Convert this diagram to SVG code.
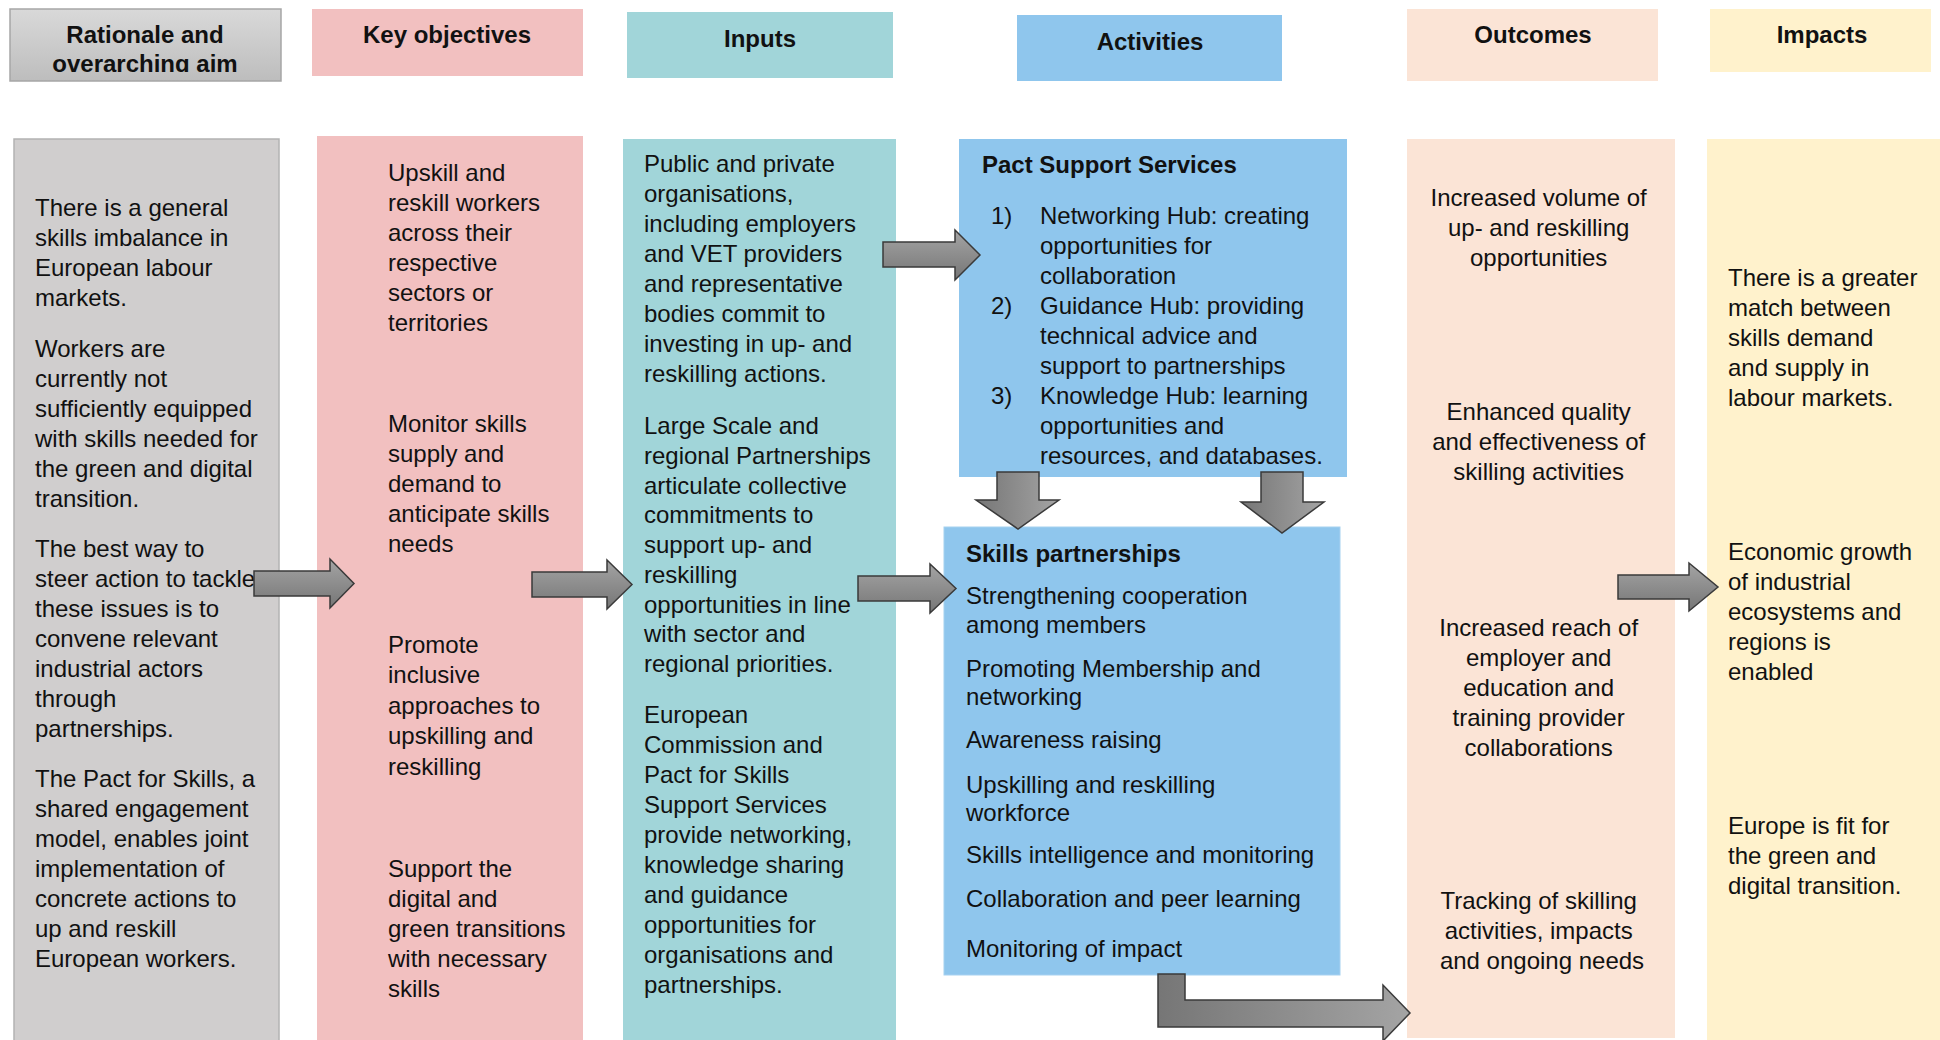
<svg xmlns="http://www.w3.org/2000/svg" width="1940" height="1040" viewBox="0 0 1940 1040">
<style>
  text { font-family: "Liberation Sans", Arial, sans-serif; font-size: 24px; fill: #111111; }
  .hdr { font-weight: bold; text-anchor: middle; }
  .ttl { font-weight: bold; }
  .mid { text-anchor: middle; }
  .arrow { stroke: #3a3a3a; stroke-width: 1.5; stroke-linejoin: miter; }
  .h { fill: url(#gH); }
  .v { fill: url(#gV); }
</style>
<defs>
  <linearGradient id="gHdr" x1="0" y1="0" x2="0" y2="1">
    <stop offset="0" stop-color="#d9d9d9"/>
    <stop offset="1" stop-color="#bdbdbd"/>
  </linearGradient>
  <linearGradient id="gH" x1="0" y1="0" x2="0" y2="1">
    <stop offset="0" stop-color="#a4a4a4"/>
    <stop offset="1" stop-color="#767676"/>
  </linearGradient>
  <linearGradient id="gV" x1="0" y1="0" x2="1" y2="0">
    <stop offset="0" stop-color="#767676"/>
    <stop offset="1" stop-color="#a4a4a4"/>
  </linearGradient>
  <clipPath id="clipHdr">
    <rect x="10" y="9" width="271" height="63"/>
  </clipPath>
</defs>
<rect x="0" y="0" width="1940" height="1040" fill="#ffffff"/>

<!-- Headers -->
<g id="header-rationale">
  <rect x="10" y="9" width="271" height="72" fill="url(#gHdr)" stroke="#a6a6a6" stroke-width="1.5"/>
  <text class="hdr" clip-path="url(#clipHdr)"><tspan x="145" y="43">Rationale and</tspan><tspan x="145" y="72">overarching  aim</tspan></text>
</g>
<g id="header-objectives">
  <rect x="312" y="9" width="271" height="67" fill="#f2c0c0"/>
  <text class="hdr" x="447" y="43">Key objectives</text>
</g>
<g id="header-inputs">
  <rect x="627" y="12" width="266" height="66" fill="#a1d5d9"/>
  <text class="hdr" x="760" y="47">Inputs</text>
</g>
<g id="header-activities">
  <rect x="1017" y="15" width="265" height="66" fill="#8fc6ed"/>
  <text class="hdr" x="1150" y="50">Activities</text>
</g>
<g id="header-outcomes">
  <rect x="1407" y="9" width="251" height="72" fill="#fbe4d6"/>
  <text class="hdr" x="1533" y="43">Outcomes</text>
</g>
<g id="header-impacts">
  <rect x="1710" y="9" width="221" height="63" fill="#fff2cc"/>
  <text class="hdr" x="1822" y="43">Impacts</text>
</g>

<!-- Columns -->
<g id="col-rationale">
  <rect x="14" y="139" width="265" height="905" fill="#d0cece" stroke="#b3b3b3" stroke-width="1.5"/>
  <text>
    <tspan x="35" y="216">There is a general</tspan>
    <tspan x="35" y="246">skills imbalance in</tspan>
    <tspan x="35" y="276">European labour</tspan>
    <tspan x="35" y="306">markets.</tspan>
    <tspan x="35" y="357">Workers are</tspan>
    <tspan x="35" y="387">currently not</tspan>
    <tspan x="35" y="417">sufficiently equipped</tspan>
    <tspan x="35" y="447">with skills needed for</tspan>
    <tspan x="35" y="477">the green and digital</tspan>
    <tspan x="35" y="507">transition.</tspan>
    <tspan x="35" y="557">The best way to</tspan>
    <tspan x="35" y="587">steer action to tackle</tspan>
    <tspan x="35" y="617">these issues is to</tspan>
    <tspan x="35" y="647">convene relevant</tspan>
    <tspan x="35" y="677">industrial actors</tspan>
    <tspan x="35" y="707">through</tspan>
    <tspan x="35" y="737">partnerships.</tspan>
    <tspan x="35" y="787">The Pact for Skills, a</tspan>
    <tspan x="35" y="817">shared engagement</tspan>
    <tspan x="35" y="847">model, enables joint</tspan>
    <tspan x="35" y="877">implementation of</tspan>
    <tspan x="35" y="907">concrete actions to</tspan>
    <tspan x="35" y="937">up and reskill</tspan>
    <tspan x="35" y="967">European workers.</tspan>
  </text>
</g>
<g id="col-objectives">
  <rect x="317" y="136" width="266" height="904" fill="#f2c0c0"/>
  <text>
    <tspan x="388" y="181">Upskill and</tspan>
    <tspan x="388" y="211">reskill workers</tspan>
    <tspan x="388" y="241">across their</tspan>
    <tspan x="388" y="271">respective</tspan>
    <tspan x="388" y="301">sectors or</tspan>
    <tspan x="388" y="331">territories</tspan>
    <tspan x="388" y="432">Monitor skills</tspan>
    <tspan x="388" y="462">supply and</tspan>
    <tspan x="388" y="492">demand to</tspan>
    <tspan x="388" y="522">anticipate skills</tspan>
    <tspan x="388" y="552">needs</tspan>
    <tspan x="388" y="653">Promote</tspan>
    <tspan x="388" y="683">inclusive</tspan>
    <tspan x="388" y="714">approaches to</tspan>
    <tspan x="388" y="744">upskilling and</tspan>
    <tspan x="388" y="775">reskilling</tspan>
    <tspan x="388" y="877">Support the</tspan>
    <tspan x="388" y="907">digital and</tspan>
    <tspan x="388" y="937">green transitions</tspan>
    <tspan x="388" y="967">with necessary</tspan>
    <tspan x="388" y="997">skills</tspan>
  </text>
</g>
<g id="col-inputs">
  <rect x="623" y="139" width="273" height="901" fill="#a1d5d9"/>
  <text>
    <tspan x="644" y="172">Public and private</tspan>
    <tspan x="644" y="202">organisations,</tspan>
    <tspan x="644" y="232">including employers</tspan>
    <tspan x="644" y="262">and VET providers</tspan>
    <tspan x="644" y="292">and representative</tspan>
    <tspan x="644" y="322">bodies commit to</tspan>
    <tspan x="644" y="352">investing in up- and</tspan>
    <tspan x="644" y="382">reskilling actions.</tspan>
    <tspan x="644" y="434">Large Scale and</tspan>
    <tspan x="644" y="464">regional Partnerships</tspan>
    <tspan x="644" y="494">articulate collective</tspan>
    <tspan x="644" y="523">commitments to</tspan>
    <tspan x="644" y="553">support up- and</tspan>
    <tspan x="644" y="583">reskilling</tspan>
    <tspan x="644" y="613">opportunities in line</tspan>
    <tspan x="644" y="642">with sector and</tspan>
    <tspan x="644" y="672">regional priorities.</tspan>
    <tspan x="644" y="723">European</tspan>
    <tspan x="644" y="753">Commission and</tspan>
    <tspan x="644" y="783">Pact for Skills</tspan>
    <tspan x="644" y="813">Support Services</tspan>
    <tspan x="644" y="843">provide networking,</tspan>
    <tspan x="644" y="873">knowledge sharing</tspan>
    <tspan x="644" y="903">and guidance</tspan>
    <tspan x="644" y="933">opportunities for</tspan>
    <tspan x="644" y="963">organisations and</tspan>
    <tspan x="644" y="993">partnerships.</tspan>
  </text>
</g>
<g id="pact-support-services">
  <rect x="959" y="139" width="388" height="338" fill="#8fc6ed"/>
  <text class="ttl" x="982" y="173">Pact Support Services</text>
  <text>
    <tspan x="991" y="224">1)</tspan>
    <tspan x="1040" y="224">Networking Hub: creating</tspan>
    <tspan x="1040" y="254">opportunities for</tspan>
    <tspan x="1040" y="284">collaboration</tspan>
    <tspan x="991" y="314">2)</tspan>
    <tspan x="1040" y="314">Guidance Hub: providing</tspan>
    <tspan x="1040" y="344">technical advice and</tspan>
    <tspan x="1040" y="374">support to partnerships</tspan>
    <tspan x="991" y="404">3)</tspan>
    <tspan x="1040" y="404">Knowledge Hub: learning</tspan>
    <tspan x="1040" y="434">opportunities and</tspan>
    <tspan x="1040" y="464">resources, and databases.</tspan>
  </text>
</g>
<g id="skills-partnerships">
  <rect x="944" y="527" width="396" height="448" fill="#8fc6ed" stroke="#a6d1f0" stroke-width="1"/>
  <text class="ttl" x="966" y="562">Skills  partnerships</text>
  <text>
    <tspan x="966" y="604">Strengthening cooperation</tspan>
    <tspan x="966" y="633">among members</tspan>
    <tspan x="966" y="677">Promoting Membership and</tspan>
    <tspan x="966" y="705">networking</tspan>
    <tspan x="966" y="748">Awareness raising</tspan>
    <tspan x="966" y="793">Upskilling and reskilling</tspan>
    <tspan x="966" y="821">workforce</tspan>
    <tspan x="966" y="863">Skills intelligence and monitoring</tspan>
    <tspan x="966" y="907">Collaboration and peer learning</tspan>
    <tspan x="966" y="957">Monitoring of impact</tspan>
  </text>
</g>
<g id="col-outcomes">
  <rect x="1407" y="139" width="268" height="899" fill="#fbe4d6"/>
  <text class="mid">
    <tspan x="1542" y="206">Increased volume of</tspan>
    <tspan x="1542" y="236">up- and reskilling</tspan>
    <tspan x="1542" y="266">opportunities</tspan>
    <tspan x="1542" y="420">Enhanced quality</tspan>
    <tspan x="1542" y="450">and effectiveness of</tspan>
    <tspan x="1542" y="480">skilling activities</tspan>
    <tspan x="1542" y="636">Increased reach of</tspan>
    <tspan x="1542" y="666">employer and</tspan>
    <tspan x="1542" y="696">education and</tspan>
    <tspan x="1542" y="726">training provider</tspan>
    <tspan x="1542" y="756">collaborations</tspan>
    <tspan x="1542" y="909">Tracking of skilling</tspan>
    <tspan x="1542" y="939">activities, impacts</tspan>
    <tspan x="1542" y="969">and ongoing needs</tspan>
  </text>
</g>
<g id="col-impacts">
  <rect x="1707" y="139" width="233" height="901" fill="#fff2cc"/>
  <text>
    <tspan x="1728" y="286">There is a greater</tspan>
    <tspan x="1728" y="316">match between</tspan>
    <tspan x="1728" y="346">skills demand</tspan>
    <tspan x="1728" y="376">and supply in</tspan>
    <tspan x="1728" y="406">labour markets.</tspan>
    <tspan x="1728" y="560">Economic growth</tspan>
    <tspan x="1728" y="590">of industrial</tspan>
    <tspan x="1728" y="620">ecosystems and</tspan>
    <tspan x="1728" y="650">regions is</tspan>
    <tspan x="1728" y="680">enabled</tspan>
    <tspan x="1728" y="834">Europe is fit for</tspan>
    <tspan x="1728" y="864">the green and</tspan>
    <tspan x="1728" y="894">digital transition.</tspan>
  </text>
</g>

<!-- Connectors -->
<g id="connectors">
  <path id="arrow-rationale-objectives" class="arrow h" d="M254,571 H330 V559 L354,583.5 L330,608 V596 H254 Z"/>
  <path id="arrow-objectives-inputs" class="arrow h" d="M532,572 H607 V560 L632,584.5 L607,609 V597 H532 Z"/>
  <path id="arrow-inputs-pact" class="arrow h" d="M883,242 H955 V230 L980,255 L955,280 V267 H883 Z"/>
  <path id="arrow-inputs-partnerships" class="arrow h" d="M858,576 H930 V564 L956,588.5 L930,613 V601 H858 Z"/>
  <path id="arrow-pact-partnerships-left" class="arrow v" d="M997,472 H1039 V500 H1059 L1018,529 L976,500 H997 Z"/>
  <path id="arrow-pact-partnerships-right" class="arrow v" d="M1261,472 H1303 V502 H1324 L1282,533 L1241,502 H1261 Z"/>
  <path id="arrow-partnerships-outcomes" class="arrow v" d="M1158,974 H1185 V1000 H1383 V985 L1410,1013 L1383,1041 V1027 H1158 Z"/>
  <path id="arrow-outcomes-impacts" class="arrow h" d="M1618,575 H1689 V563 L1718,587 L1689,611 V599 H1618 Z"/>
</g>
</svg>
